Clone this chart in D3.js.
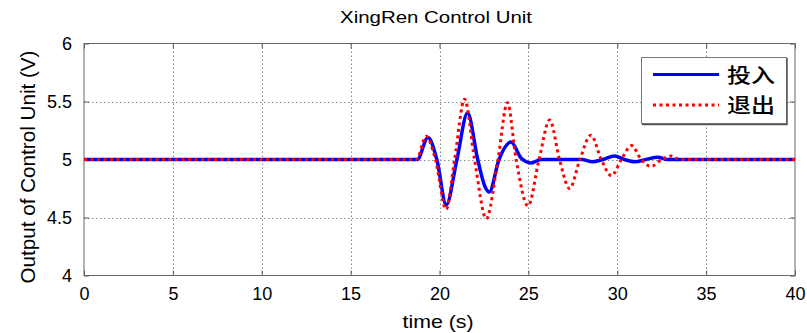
<!DOCTYPE html>
<html>
<head>
<meta charset="utf-8">
<script src="https://cdn.jsdelivr.net/npm/d3@7"></script>
<style>
  body { margin: 0; background: #fff; }
  text { font-family: "Liberation Sans", Arial, sans-serif; fill: #000; }
</style>
</head>
<body>
<svg id="chart" width="807" height="333"></svg>
<script>
// ---- data ----
const xTicks = [0, 5, 10, 15, 20, 25, 30, 35, 40];
const yTicks = [4, 4.5, 5, 5.5, 6];
const seriesNames = ["投入", "退出"];

const timeIn = [0, 18.75, 19.35, 19.85, 20.38, 20.98, 21.58, 22.15, 22.55, 22.8, 23.35, 24.02, 24.6, 25.15, 25.7, 28.0, 28.6, 29.2, 29.85, 30.4, 31.0, 31.6, 32.3, 32.8, 40];
const valueIn = [5, 5, 5.19, 5.0, 4.61, 5.0, 5.40, 5.0, 4.77, 4.72, 5.0, 5.15, 5.01, 4.97, 5.0, 5.0, 4.98, 5.0, 5.03, 5.0, 4.98, 5.0, 5.02, 5.0, 5.0];

const timeOut = [0, 18.7, 19.25, 19.77, 20.37, 20.85, 21.41, 21.97, 22.63, 23.29, 23.82, 24.31, 24.98, 25.6, 26.2, 26.75, 27.32, 27.9, 28.52, 29.1, 29.67, 30.23, 30.8, 31.35, 31.9, 32.5, 33.05, 33.5, 40];
const valueOut = [5, 5, 5.20, 5.0, 4.57, 5.0, 5.52, 5.0, 4.49, 5.0, 5.49, 5.0, 4.60, 5.0, 5.34, 5.0, 4.75, 5.0, 5.21, 5.0, 4.86, 5.0, 5.12, 5.0, 4.94, 5.0, 5.03, 5.0, 5.0];

// ---- layout ----
const pLeft = 84, pRight = 795, pTop = 43.5, pBottom = 275.5;
const svg = d3.select("#chart");

const x = d3.scaleLinear().domain([0, 40]).range([pLeft, pRight]);
const y = d3.scaleLinear().domain([4, 6]).range([pBottom, pTop]);

// grid (dotted)
const grid = svg.append("g").attr("stroke", "#8a8a8a").attr("stroke-width", 1)
  .attr("stroke-dasharray", "1.5,2.5");
grid.selectAll(".gx").data(xTicks.slice(1, -1)).enter().append("line")
  .attr("x1", d => Math.round(x(d)) + 0.5).attr("x2", d => Math.round(x(d)) + 0.5)
  .attr("y1", pTop).attr("y2", pBottom);
grid.selectAll(".gy").data(yTicks.slice(1, -1)).enter().append("line")
  .attr("y1", d => Math.round(y(d)) + 0.5).attr("y2", d => Math.round(y(d)) + 0.5)
  .attr("x1", pLeft).attr("x2", pRight);

// axes with inward ticks on all four sides
function styleAxis(g) {
  g.select(".domain").remove();
  g.selectAll(".tick line").attr("stroke", "#555");
  g.selectAll(".tick text").attr("font-size", 18).attr("fill", "#000")
    .style("font-family", "'Liberation Sans', Arial, sans-serif");
}
svg.append("g").attr("transform", `translate(0,${pBottom})`)
  .call(d3.axisBottom(x).tickValues(xTicks).tickSize(-5).tickPadding(12).tickFormat(d3.format("d")))
  .call(styleAxis);
svg.append("g").attr("transform", `translate(0,${pTop})`)
  .call(d3.axisTop(x).tickValues(xTicks).tickSize(-5).tickFormat(""))
  .call(styleAxis);
svg.append("g").attr("transform", `translate(${pLeft},0)`)
  .call(d3.axisLeft(y).tickValues(yTicks).tickSize(-5).tickPadding(12).tickFormat(d => d))
  .call(styleAxis);
svg.append("g").attr("transform", `translate(${pRight},0)`)
  .call(d3.axisRight(y).tickValues(yTicks).tickSize(-5).tickFormat(""))
  .call(styleAxis);

// box
svg.append("rect").attr("x", pLeft).attr("y", pTop)
  .attr("width", pRight - pLeft).attr("height", pBottom - pTop)
  .attr("fill", "none").attr("stroke", "#666").attr("stroke-width", 1);

// lines
const line = d3.line().x(d => x(d[0])).y(d => y(d[1])).curve(d3.curveMonotoneX);
const dataIn = timeIn.map((t, i) => [t, valueIn[i]]);
const dataOut = timeOut.map((t, i) => [t, valueOut[i]]);

svg.append("path").datum(dataIn).attr("d", line)
  .attr("fill", "none").attr("stroke", "#0000ff").attr("stroke-width", 3.5)
  .attr("stroke-linejoin", "round");
svg.append("path").datum(dataOut).attr("d", line)
  .attr("fill", "none").attr("stroke", "#ff0000").attr("stroke-width", 3)
  .attr("stroke-dasharray", "3,3.5");

// title and labels
svg.append("text").attr("x", 436).attr("y", 23).attr("text-anchor", "middle")
  .attr("font-size", 16).attr("textLength", 192).attr("lengthAdjust", "spacingAndGlyphs")
  .text("XingRen Control Unit");
svg.append("text").attr("x", 438).attr("y", 328).attr("text-anchor", "middle")
  .attr("font-size", 19).attr("textLength", 71).attr("lengthAdjust", "spacingAndGlyphs")
  .text("time (s)");
svg.append("text").attr("transform", "translate(35,167) rotate(-90)").attr("text-anchor", "middle")
  .attr("font-size", 21).attr("textLength", 233).attr("lengthAdjust", "spacingAndGlyphs")
  .text("Output of Control Unit (V)");

// legend
const lg = svg.append("g");
lg.append("rect").attr("x", 641.5).attr("y", 57.5).attr("width", 145).attr("height", 66)
  .attr("fill", "#fff").attr("stroke", "#777").attr("stroke-width", 1);
lg.append("path").attr("d", "M787,58V124.5H642").attr("fill", "none").attr("stroke", "#555").attr("stroke-width", 1.5);
const legendItems = [
  { name: seriesNames[0], color: "#0000ff", dash: null, yy: 74.5 },
  { name: seriesNames[1], color: "#ff0000", dash: "3,3.5", yy: 105 }
];
legendItems.forEach(it => {
  lg.append("line").attr("x1", 653).attr("x2", 719).attr("y1", it.yy).attr("y2", it.yy)
    .attr("stroke", it.color).attr("stroke-width", 3).attr("stroke-dasharray", it.dash);
  lg.append("text").attr("x", 727).attr("y", it.yy + 8).attr("font-size", 20)
    .attr("textLength", 48).attr("lengthAdjust", "spacingAndGlyphs")
    .style("font-family", "'Noto Sans CJK SC', sans-serif").style("font-weight", 500)
    .text(it.name);
});
</script>
</body>
</html>
